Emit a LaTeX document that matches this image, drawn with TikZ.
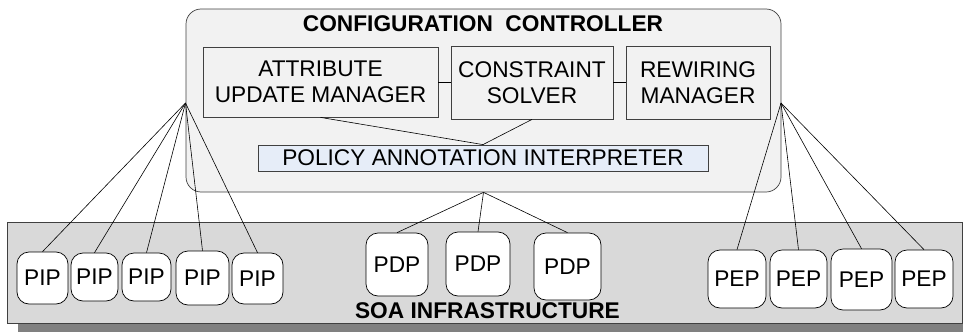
\documentclass[tikz,border=0pt]{standalone}
\usepackage{fontspec}
\setmainfont{Liberation Sans}
\definecolor{ctrlfill}{HTML}{F2F2F2}
\definecolor{soafill}{HTML}{D9D9D9}
\definecolor{soashadow}{HTML}{808080}
\definecolor{policyfill}{HTML}{E6EDF8}
\definecolor{edgegray}{HTML}{404040}
\begin{document}
\begin{tikzpicture}[x=1pt,y=-1pt,
  every node/.style={font=\fontsize{22.7}{26}\selectfont, inner sep=0pt, align=center},
  ctrl/.style={draw=edgegray, line width=0.7pt, fill=ctrlfill, rounded corners=15pt},
  module/.style={draw=edgegray, line width=0.8pt, fill=ctrlfill},
  policy/.style={draw=edgegray, line width=0.8pt, fill=policyfill},
  infra/.style={draw=edgegray, line width=0.9pt, fill=soafill},
  agent/.style={draw=black, line width=0.7pt, fill=white, rounded corners=12pt},
  link/.style={line width=0.6pt, black},
  title/.style={font=\fontsize{22.7}{26}\selectfont\bfseries}]
\useasboundingbox (0,0) rectangle (963,332);

% infrastructure layer with its drop shadow
\fill[soashadow] (18,231) rectangle (963,332);
\node[infra, minimum width=955pt, minimum height=101pt] (soa) at (484.5,272.5) {};

% configuration controller
\node[ctrl, minimum width=595pt, minimum height=183pt] (cc) at (483.5,100.5) {};
\node[title] (cctitle) at (483,23.5) {CONFIGURATION\ \ CONTROLLER};

\node[module, minimum width=235pt, minimum height=70pt] (aum) at (320.5,82) {ATTRIBUTE\\UPDATE MANAGER};
\node[module, minimum width=162pt, minimum height=73pt] (cs) at (532,82.5) {CONSTRAINT\\SOLVER};
\node[module, minimum width=144pt, minimum height=73pt] (rm) at (698,82.5) {REWIRING\\MANAGER};
\node[policy, minimum width=450pt, minimum height=26pt] (pai) at (483,158) {POLICY ANNOTATION INTERPRETER};

\draw[link] (aum.east |- 0,82) -- (cs.west |- 0,82);
\draw[link] (cs.east |- 0,82) -- (rm.west |- 0,82);
\draw[link] (aum.south) -- (pai.north);
\draw[link] (cs.south) -- (pai.north);

% fan-out points on the controller border
\coordinate (fanL) at (185.5,103);
\coordinate (fanR) at (781,103);

% information points
\node[agent, minimum width=51pt, minimum height=52pt] (pip1) at (42.5,278) {PIP};
\node[agent, minimum width=47pt, minimum height=48pt] (pip2) at (94.5,277) {PIP};
\node[agent, minimum width=49pt, minimum height=48pt] (pip3) at (146.5,277) {PIP};
\node[agent, minimum width=53pt, minimum height=54pt] (pip4) at (202.5,278) {PIP};
\node[agent, minimum width=51pt, minimum height=51pt] (pip5) at (257.5,278.5) {PIP};

% decision points
\node[agent, minimum width=62pt, minimum height=63pt] (pdp1) at (397,264.5) {PDP};
\node[agent, minimum width=64pt, minimum height=64pt] (pdp2) at (478,264) {PDP};
\node[agent, minimum width=67pt, minimum height=67pt] (pdp3) at (567.5,266.5) {PDP};

% enforcement points
\node[agent, minimum width=58pt, minimum height=58pt] (pep1) at (737,279) {PEP};
\node[agent, minimum width=57pt, minimum height=58pt] (pep2) at (798.5,279) {PEP};
\node[agent, minimum width=61pt, minimum height=61pt] (pep3) at (861.5,279.5) {PEP};
\node[agent, minimum width=58pt, minimum height=58pt] (pep4) at (924,279) {PEP};

\node[title] (soatitle) at (487.5,310.5) {SOA INFRASTRUCTURE};

\foreach \n in {pip1,pip2,pip3,pip4,pip5}
  \draw[link] (fanL) -- (\n.north);
\foreach \n in {pdp1,pdp2,pdp3}
  \draw[link] (cc.south) -- (\n.north);
\foreach \n in {pep1,pep2,pep3,pep4}
  \draw[link] (fanR) -- (\n.north);
\end{tikzpicture}
\end{document}
